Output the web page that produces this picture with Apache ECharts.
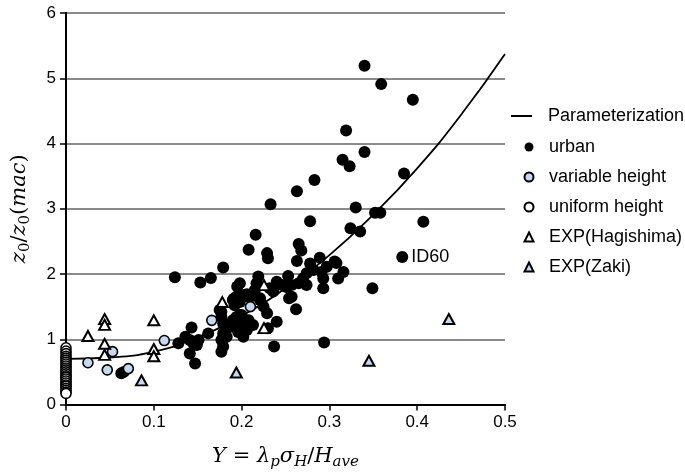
<!DOCTYPE html>
<html>
<head>
<meta charset="utf-8">
<script src="https://cdn.jsdelivr.net/npm/echarts@6/dist/echarts.min.js"></script>
<style>
  html, body { margin: 0; padding: 0; background: #fff; }
  #chart { width: 685px; height: 476px; }
</style>
</head>
<body>
<div id="chart"></div>
<script>
// Roughness ratio z0/z0(mac) against Y = λp·σH/Have

const urbanPoints = [
  [0.340, 5.19], [0.359, 4.91], [0.395, 4.67], [0.319, 4.20], [0.340, 3.87],
  [0.315, 3.75], [0.323, 3.65], [0.385, 3.54], [0.283, 3.44], [0.263, 3.27],
  [0.233, 3.07], [0.330, 3.02], [0.352, 2.94], [0.358, 2.94], [0.278, 2.81],
  [0.407, 2.80], [0.324, 2.70], [0.335, 2.65], [0.216, 2.60],
  [0.208, 2.37], [0.229, 2.32], [0.230, 2.24], [0.265, 2.46], [0.268, 2.36],
  [0.289, 2.25], [0.308, 2.17], [0.316, 2.03], [0.310, 1.93], [0.349, 1.78],
  [0.293, 1.78], [0.257, 1.65], [0.254, 1.63], [0.262, 1.46], [0.240, 1.27],
  [0.230, 1.17], [0.237, 0.89], [0.294, 0.95],
  [0.263, 2.20], [0.278, 2.16], [0.282, 2.06], [0.297, 2.11], [0.306, 2.19],
  [0.219, 1.96], [0.253, 1.97], [0.274, 2.01], [0.270, 1.93], [0.291, 2.03],
  [0.293, 1.93], [0.265, 1.86], [0.274, 1.83], [0.257, 1.83], [0.217, 1.86],
  [0.215, 1.75], [0.232, 1.78], [0.236, 1.73], [0.206, 1.66], [0.202, 1.68],
  [0.221, 1.63], [0.198, 1.86],
  [0.179, 2.10], [0.165, 1.94], [0.153, 1.87], [0.124, 1.95], [0.195, 1.81],
  [0.206, 1.69], [0.191, 1.62],
  [0.190, 1.60], [0.198, 1.57], [0.175, 1.45], [0.177, 1.34], [0.194, 1.34],
  [0.190, 1.29], [0.187, 1.19], [0.179, 1.09], [0.177, 0.99], [0.179, 0.89],
  [0.177, 0.81], [0.198, 1.11], [0.200, 1.22], [0.208, 1.29], [0.143, 1.18],
  [0.136, 1.04], [0.141, 0.99], [0.128, 0.94], [0.149, 0.91], [0.151, 0.99],
  [0.141, 0.78], [0.147, 0.63], [0.162, 1.09], [0.063, 0.48], [0.066, 0.50],
  [0.145, 0.94], [0.177, 1.42], [0.179, 1.24], [0.183, 1.04], [0.194, 1.65],
  [0.192, 1.52], [0.198, 1.37], [0.196, 1.11], [0.206, 1.14], [0.202, 1.04],
  [0.210, 1.65], [0.221, 1.60], [0.225, 1.50], [0.200, 1.37], [0.202, 1.19],
  [0.206, 1.24], [0.213, 1.22], [0.229, 1.40], [0.240, 1.88], [0.246, 1.83],
  [0.251, 1.80]
];
const id60Point = [0.383, 2.26];
const id60Label = 'ID60';

const variableHeightPoints = [
  [0.025, 0.64], [0.047, 0.53], [0.053, 0.81], [0.071, 0.55],
  [0.112, 0.98], [0.166, 1.29], [0.210, 1.50]
];

const uniformHeightPoints = [
  [0, 0.87], [0, 0.82], [0, 0.78], [0, 0.74], [0, 0.71], [0, 0.68],
  [0, 0.65], [0, 0.62], [0, 0.59], [0, 0.56], [0, 0.53], [0, 0.50],
  [0, 0.47], [0, 0.44], [0, 0.42], [0, 0.39], [0, 0.36], [0, 0.33],
  [0, 0.30], [0, 0.28], [0, 0.25], [0, 0.22], [0, 0.19], [0, 0.17]
];

const hagishimaPoints = [
  [0.025, 1.05], [0.044, 1.31], [0.044, 1.22], [0.044, 0.93], [0.044, 0.76],
  [0.100, 1.29], [0.100, 0.85], [0.100, 0.74], [0.178, 1.57], [0.2255, 1.83],
  [0.2255, 1.17]
];

const zakiPoints = [
  [0.086, 0.37], [0.194, 0.49], [0.345, 0.67], [0.436, 1.31]
];

// parameterization curve sampled every 0.05
const curveX = [0, 0.05, 0.10, 0.15, 0.20, 0.25, 0.30, 0.35, 0.40, 0.45, 0.50];
const curveY = [0.70, 0.72, 0.81, 1.03, 1.36, 1.78, 2.29, 2.91, 3.62, 4.44, 5.37];

const legendMarkers = ['urban', 'variable height', 'uniform height', 'EXP(Hagishima)', 'EXP(Zaki)'];

const SANS = 'Liberation Sans, Arial, Helvetica, sans-serif';
const SERIF = 'DejaVu Serif, serif';
const LIGHT_BLUE = '#c6d9f0';

const chart = echarts.init(document.getElementById('chart'), null, { renderer: 'canvas' });

const legendText = {
  fontFamily: SANS, fontSize: 18, color: '#000', lineHeight: 20
};

const mathRich = {
  i: { fontFamily: SERIF, fontStyle: 'italic', fontSize: 21, color: '#000' },
  r: { fontFamily: SERIF, fontSize: 21, color: '#000' },
  si: { fontFamily: SERIF, fontStyle: 'italic', fontSize: 15, color: '#000', verticalAlign: 'top', padding: [11, 0, 0, 0] },
  s: { fontFamily: SERIF, fontSize: 15, color: '#000', verticalAlign: 'top', padding: [11, 0, 0, 0] }
};

const solid = { opacity: 1 };

const option = {
  animation: false,
  backgroundColor: '#fff',
  grid: { left: 66, right: 180, top: 13, bottom: 71.5, outerBoundsMode: 'none', containLabel: false },
  legend: [
    {
      data: [{ name: 'Parameterization', icon: 'rect', itemStyle: { color: '#000', borderWidth: 0 } }],
      left: 511, top: 106, padding: 0,
      itemWidth: 21, itemHeight: 2, selectedMode: false,
      textStyle: Object.assign({ padding: [0, 0, 0, 11] }, legendText)
    },
    {
      data: legendMarkers, orient: 'vertical', left: 523.5, top: 137, padding: 0,
      itemWidth: 9, itemHeight: 9, itemGap: 10, selectedMode: false,
      textStyle: Object.assign({ padding: [0, 0, 0, 10.5] }, legendText)
    }
  ],
  xAxis: [
    {
      type: 'value', min: 0, max: 0.5, interval: 0.1, position: 'bottom',
      axisLine: { show: true, lineStyle: { color: '#000', width: 2 } },
      axisTick: { show: true, length: 6, lineStyle: { color: '#000', width: 1.5 } },
      axisLabel: { fontFamily: SANS, fontSize: 17, color: '#000', margin: 9 },
      splitLine: { show: false },
      name: '{i|Y}{r| = }{i|λ}{si|p}{i|σ}{si|H}{r|/}{i|H}{si|ave}',
      nameLocation: 'middle', nameGap: 39,
      nameTextStyle: { rich: mathRich }
    },
    {
      type: 'value', min: 0, max: 0.5, position: 'top',
      axisLine: { show: true, lineStyle: { color: '#000', width: 2 } },
      axisTick: { show: false }, axisLabel: { show: false }, splitLine: { show: false }
    }
  ],
  yAxis: [
    {
      type: 'value', min: 0, max: 6, interval: 1, position: 'left',
      axisLine: { show: true, lineStyle: { color: '#000', width: 2 } },
      axisTick: { show: true, length: 6, lineStyle: { color: '#000', width: 1.5 } },
      axisLabel: { fontFamily: SANS, fontSize: 17, color: '#000', margin: 10 },
      splitLine: { show: true, lineStyle: { color: '#8a8a8a', width: 1.8 } },
      name: '{i|z}{s|0}{r|/}{i|z}{s|0}{r|(}{i|mac}{r|)}',
      nameLocation: 'middle', nameGap: 33,
      nameTextStyle: { rich: mathRich }
    },
    {
      type: 'value', min: 0, max: 6, position: 'right',
      axisLine: { show: true, lineStyle: { color: '#000', width: 2 } },
      axisTick: { show: false }, axisLabel: { show: false }, splitLine: { show: false }
    }
  ],
  series: [
    {
      name: 'Parameterization', type: 'line', z: 2,
      data: curveX.map((x, i) => [x, curveY[i]]),
      smooth: true, symbol: 'none',
      itemStyle: { color: '#000' },
      lineStyle: { color: '#000', width: 1.8 },
      emphasis: { disabled: true }
    },
    {
      name: 'urban', type: 'scatter', z: 3,
      data: urbanPoints.concat([{
        value: id60Point,
        label: {
          show: true, formatter: id60Label, position: 'right', distance: 3,
          fontFamily: SANS, fontSize: 18, color: '#000'
        }
      }]),
      symbol: 'circle', symbolSize: 12,
      itemStyle: Object.assign({ color: '#000' }, solid),
      emphasis: { disabled: true }
    },
    {
      name: 'variable height', type: 'scatter', z: 4,
      data: variableHeightPoints,
      symbol: 'circle', symbolSize: 10,
      itemStyle: Object.assign({ color: LIGHT_BLUE, borderColor: '#000', borderWidth: 1.6 }, solid),
      emphasis: { disabled: true }
    },
    {
      name: 'uniform height', type: 'scatter', z: 4,
      data: uniformHeightPoints,
      symbol: 'circle', symbolSize: 10,
      itemStyle: Object.assign({ color: '#fff', borderColor: '#000', borderWidth: 1.6 }, solid),
      emphasis: { disabled: true }
    },
    {
      name: 'EXP(Hagishima)', type: 'scatter', z: 5,
      data: hagishimaPoints,
      symbol: 'triangle', symbolSize: [11, 10],
      itemStyle: Object.assign({ color: '#fff', borderColor: '#000', borderWidth: 2 }, solid),
      emphasis: { disabled: true }
    },
    {
      name: 'EXP(Zaki)', type: 'scatter', z: 5,
      data: zakiPoints,
      symbol: 'triangle', symbolSize: [11, 10],
      itemStyle: Object.assign({ color: LIGHT_BLUE, borderColor: '#000', borderWidth: 2 }, solid),
      emphasis: { disabled: true }
    }
  ]
};

chart.setOption(option);
</script>
</body>
</html>
